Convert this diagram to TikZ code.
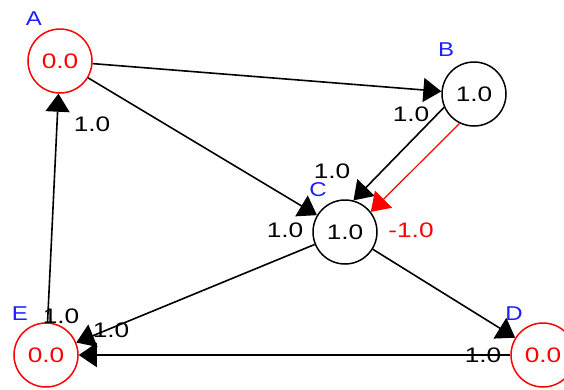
\documentclass[tikz,border=0pt]{standalone}
\usepackage{fontspec}
\setmainfont{Liberation Sans}
\usetikzlibrary{arrows.meta}
\definecolor{lblblue}{RGB}{30,30,255}
\newcommand{\wt}[1]{\scalebox{1.25}[1]{#1}}
\newcommand{\lt}[1]{\scalebox{1.2}[1]{#1}}
\tikzset{
 vert/.style={circle, draw, line width=1.5pt, minimum size=64pt, inner sep=0pt, font=\fontsize{21}{21}\selectfont},
 zerov/.style={vert, draw=red, text=red},
 onev/.style={vert, draw=black, text=black},
 vlabel/.style={text=lblblue, font=\fontsize{20}{20}\selectfont, inner sep=0pt},
 wlabel/.style={font=\fontsize{21}{21}\selectfont, inner sep=0pt},
 edge/.style={draw=black, line width=1.6pt, -{Triangle[width=24pt,length=18pt]}},
 negedge/.style={draw=red, line width=1.2pt, -{Triangle[width=24pt,length=18pt]}}
}
\begin{document}
\begin{tikzpicture}[x=1pt,y=-1pt]
\useasboundingbox (0,0) rectangle (564,389);
\node[zerov] (A) at (60,61) {\wt{0.0}};
\node[onev] (B) at (474,94) {\wt{1.0}};
\node[onev] (C) at (345,232) {\wt{1.0}};
\node[zerov] (D) at (543,355) {\wt{0.0}};
\node[zerov] (E) at (46,355) {\wt{0.0}};
\node[vlabel] (lA) at (34,19) {\lt{A}};
\node[vlabel] (lB) at (446,50) {\lt{B}};
\node[vlabel] (lC) at (318,190) {\lt{C}};
\node[vlabel] (lD) at (514,314) {\lt{D}};
\node[vlabel] (lE) at (20,314) {\lt{E}};
\draw[edge] (E) -- (A);
\draw[edge] (A) -- (B);
\draw[edge] (A) -- (C);
\draw[edge] (B.204) -- (C.75);
\draw[negedge] (B.244) -- (C.38);
\draw[edge] (C) -- (D);
\draw[edge] (C) -- (E);
\draw[edge] (D) -- (E);
\node[wlabel] (wEA) at (92,124) {\wt{1.0}};
\node[wlabel] (wAB) at (411,114) {\wt{1.0}};
\node[wlabel] (wBC) at (332,171) {\wt{1.0}};
\node[wlabel] (wAC) at (285,230) {\wt{1.0}};
\node[wlabel, text=red] (wBCn) at (411,230) {\wt{-1.0}};
\node[wlabel] (wE1) at (61,316) {\wt{1.0}};
\node[wlabel] (wE2) at (111,330) {\wt{1.0}};
\node[wlabel] (wCD) at (483,355) {\wt{1.0}};
\end{tikzpicture}
\end{document}
